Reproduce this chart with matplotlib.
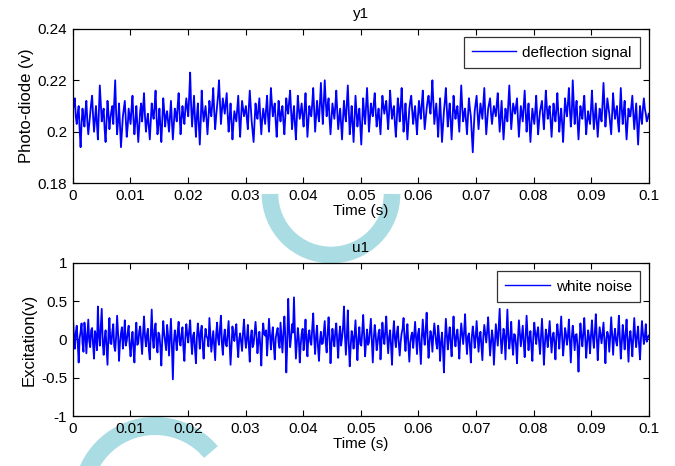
import numpy as np
import matplotlib
matplotlib.use("Agg")
import matplotlib.pyplot as plt
from matplotlib.patches import Arc
from matplotlib.ticker import FormatStrFormatter

plt.rcParams['font.family'] = ['Liberation Sans', 'DejaVu Sans']

# Photo-diode deflection signal (V) (20 samples per row)
deflection = [
    0.208, 0.211, 0.213, 0.206, 0.203, 0.207, 0.210, 0.201, 0.194, 0.203, 0.209, 0.205, 0.202, 0.208, 0.212, 0.204, 0.199, 0.203, 0.207, 0.211,
    0.214, 0.206, 0.200, 0.205, 0.210, 0.203, 0.197, 0.208, 0.218, 0.211, 0.204, 0.207, 0.209, 0.201, 0.196, 0.204, 0.212, 0.207, 0.201, 0.205,
    0.208, 0.210, 0.203, 0.212, 0.220, 0.207, 0.199, 0.204, 0.211, 0.202, 0.194, 0.200, 0.206, 0.209, 0.212, 0.205, 0.198, 0.202, 0.209, 0.206,
    0.203, 0.209, 0.214, 0.205, 0.199, 0.204, 0.210, 0.203, 0.196, 0.202, 0.208, 0.211, 0.204, 0.209, 0.215, 0.206, 0.200, 0.204, 0.207, 0.202,
    0.197, 0.204, 0.211, 0.207, 0.205, 0.210, 0.216, 0.206, 0.199, 0.203, 0.209, 0.202, 0.196, 0.205, 0.213, 0.208, 0.202, 0.206, 0.208, 0.204,
    0.200, 0.206, 0.212, 0.204, 0.197, 0.203, 0.209, 0.207, 0.204, 0.210, 0.215, 0.207, 0.199, 0.205, 0.210, 0.206, 0.203, 0.209, 0.213, 0.209,
    0.206, 0.214, 0.223, 0.210, 0.202, 0.208, 0.214, 0.205, 0.198, 0.206, 0.211, 0.203, 0.195, 0.204, 0.216, 0.209, 0.204, 0.207, 0.210, 0.205,
    0.199, 0.205, 0.212, 0.208, 0.206, 0.211, 0.217, 0.208, 0.201, 0.206, 0.210, 0.214, 0.220, 0.211, 0.203, 0.208, 0.213, 0.210, 0.207, 0.211,
    0.215, 0.207, 0.200, 0.205, 0.211, 0.204, 0.197, 0.203, 0.208, 0.206, 0.204, 0.209, 0.214, 0.205, 0.198, 0.206, 0.212, 0.209, 0.206, 0.208,
    0.210, 0.205, 0.201, 0.209, 0.216, 0.210, 0.204, 0.200, 0.196, 0.204, 0.211, 0.207, 0.205, 0.209, 0.213, 0.205, 0.199, 0.205, 0.209, 0.206,
    0.203, 0.209, 0.214, 0.206, 0.200, 0.209, 0.217, 0.211, 0.206, 0.209, 0.211, 0.204, 0.198, 0.205, 0.212, 0.207, 0.204, 0.208, 0.210, 0.204,
    0.199, 0.206, 0.213, 0.209, 0.207, 0.212, 0.216, 0.208, 0.201, 0.206, 0.210, 0.203, 0.197, 0.206, 0.214, 0.209, 0.205, 0.208, 0.211, 0.206,
    0.202, 0.209, 0.215, 0.206, 0.198, 0.204, 0.210, 0.207, 0.206, 0.211, 0.217, 0.208, 0.200, 0.206, 0.212, 0.207, 0.204, 0.211, 0.219, 0.210,
    0.203, 0.211, 0.220, 0.212, 0.206, 0.210, 0.213, 0.205, 0.199, 0.205, 0.211, 0.208, 0.205, 0.210, 0.216, 0.208, 0.201, 0.205, 0.209, 0.203,
    0.197, 0.205, 0.212, 0.207, 0.204, 0.211, 0.218, 0.208, 0.199, 0.204, 0.210, 0.203, 0.196, 0.205, 0.214, 0.208, 0.202, 0.206, 0.209, 0.202,
    0.195, 0.204, 0.213, 0.207, 0.203, 0.210, 0.217, 0.209, 0.200, 0.205, 0.211, 0.208, 0.206, 0.211, 0.215, 0.208, 0.202, 0.206, 0.209, 0.204,
    0.199, 0.207, 0.214, 0.210, 0.207, 0.210, 0.212, 0.206, 0.201, 0.208, 0.216, 0.210, 0.205, 0.208, 0.210, 0.203, 0.198, 0.205, 0.213, 0.209,
    0.204, 0.210, 0.217, 0.208, 0.200, 0.205, 0.211, 0.204, 0.197, 0.203, 0.209, 0.212, 0.214, 0.208, 0.203, 0.207, 0.210, 0.204, 0.199, 0.206,
    0.212, 0.208, 0.205, 0.211, 0.216, 0.208, 0.201, 0.205, 0.209, 0.212, 0.214, 0.210, 0.207, 0.213, 0.220, 0.211, 0.203, 0.207, 0.211, 0.205,
    0.198, 0.206, 0.213, 0.204, 0.196, 0.202, 0.208, 0.212, 0.217, 0.209, 0.202, 0.207, 0.211, 0.204, 0.197, 0.205, 0.214, 0.209, 0.205, 0.208,
    0.210, 0.205, 0.200, 0.209, 0.218, 0.210, 0.204, 0.207, 0.209, 0.204, 0.199, 0.206, 0.213, 0.209, 0.206, 0.199, 0.192, 0.201, 0.208, 0.211,
    0.214, 0.207, 0.201, 0.206, 0.211, 0.208, 0.205, 0.211, 0.217, 0.207, 0.199, 0.204, 0.209, 0.211, 0.213, 0.207, 0.203, 0.207, 0.210, 0.208,
    0.206, 0.211, 0.215, 0.207, 0.200, 0.206, 0.212, 0.204, 0.197, 0.203, 0.209, 0.206, 0.204, 0.211, 0.218, 0.209, 0.201, 0.206, 0.211, 0.209,
    0.207, 0.210, 0.213, 0.205, 0.198, 0.204, 0.210, 0.207, 0.204, 0.210, 0.216, 0.208, 0.200, 0.206, 0.211, 0.203, 0.196, 0.203, 0.209, 0.206,
    0.203, 0.208, 0.214, 0.206, 0.199, 0.204, 0.208, 0.210, 0.212, 0.206, 0.201, 0.208, 0.216, 0.210, 0.205, 0.208, 0.210, 0.204, 0.198, 0.205,
    0.211, 0.207, 0.204, 0.209, 0.215, 0.207, 0.200, 0.205, 0.209, 0.203, 0.196, 0.205, 0.213, 0.209, 0.206, 0.211, 0.217, 0.209, 0.202, 0.207,
    0.220, 0.211, 0.203, 0.208, 0.212, 0.204, 0.197, 0.204, 0.210, 0.207, 0.205, 0.210, 0.214, 0.206, 0.199, 0.204, 0.208, 0.205, 0.203, 0.209,
    0.216, 0.208, 0.201, 0.206, 0.211, 0.204, 0.198, 0.204, 0.209, 0.206, 0.204, 0.211, 0.219, 0.210, 0.202, 0.207, 0.213, 0.210, 0.207, 0.203,
    0.199, 0.207, 0.215, 0.209, 0.205, 0.208, 0.210, 0.204, 0.200, 0.208, 0.217, 0.209, 0.203, 0.208, 0.212, 0.204, 0.197, 0.203, 0.209, 0.206,
    0.206, 0.210, 0.214, 0.207, 0.201, 0.206, 0.211, 0.203, 0.195, 0.203, 0.210, 0.206, 0.203, 0.209, 0.213, 0.209, 0.207, 0.204, 0.205, 0.207,
]

# White-noise excitation (V) (20 samples per row)
excitation = [
    0.33, 0.05, -0.12, 0.09, 0.18, -0.04, -0.30, 0.02, 0.10, 0.21, -0.05, -0.16, 0.22, 0.08, -0.18, 0.04, 0.26, -0.02, -0.10, 0.12,
    0.15, -0.07, -0.25, 0.11, 0.05, -0.14, 0.43, 0.06, -0.08, 0.17, 0.40, -0.03, -0.20, 0.01, 0.12, -0.11, -0.33, 0.07, 0.28, -0.05,
    -0.06, 0.10, 0.20, -0.09, -0.15, 0.04, 0.31, 0.07, -0.28, -0.04, 0.08, 0.16, -0.12, 0.03, 0.25, -0.08, -0.02, 0.09, 0.18, -0.07,
    -0.22, -0.03, 0.10, -0.12, -0.30, 0.05, 0.22, -0.07, -0.05, 0.11, 0.17, -0.02, -0.19, 0.08, 0.30, 0.04, -0.09, 0.06, 0.14, -0.13,
    -0.26, 0.08, 0.39, 0.02, -0.11, 0.13, 0.21, -0.06, -0.17, 0.09, 0.06, -0.10, -0.34, 0.01, 0.24, 0.07, -0.03, -0.14, 0.19, 0.05,
    -0.21, 0.04, 0.27, -0.09, -0.52, -0.05, 0.12, 0.02, -0.14, 0.10, 0.23, -0.04, -0.08, 0.07, 0.16, -0.12, -0.28, 0.03, 0.20, 0.06,
    -0.04, 0.12, 0.25, -0.02, -0.19, 0.05, 0.09, -0.13, -0.31, 0.03, 0.21, 0.06, -0.12, 0.10, 0.18, -0.07, -0.25, -0.01, 0.14, 0.04,
    0.02, -0.09, 0.28, 0.07, -0.16, -0.03, 0.11, -0.08, -0.27, 0.06, 0.22, 0.01, -0.07, 0.14, 0.31, -0.05, -0.20, 0.02, 0.13, -0.06,
    -0.09, 0.07, 0.24, -0.05, -0.33, -0.08, 0.17, 0.04, -0.02, 0.11, 0.20, -0.06, -0.23, 0.01, 0.08, -0.04, -0.15, 0.09, 0.26, 0.03,
    -0.11, 0.02, 0.19, -0.07, -0.29, 0.03, 0.12, -0.10, -0.06, 0.08, 0.23, 0.05, -0.18, -0.02, 0.10, -0.09, -0.34, 0.04, 0.21, 0.07,
    0.05, 0.12, -0.21, 0.01, 0.27, 0.06, -0.13, 0.04, 0.16, -0.08, -0.26, 0.02, 0.09, 0.15, -0.04, -0.11, 0.22, 0.03, -0.17, 0.08,
    0.30, 0.04, -0.43, -0.06, 0.53, 0.12, -0.10, 0.03, 0.20, 0.09, 0.55, 0.07, -0.25, -0.04, 0.15, 0.02, -0.30, -0.07, 0.08, 0.14,
    -0.14, 0.03, 0.26, -0.05, -0.22, 0.06, 0.12, -0.03, -0.07, 0.15, 0.34, 0.02, -0.19, 0.05, 0.18, -0.10, -0.28, -0.02, 0.10, -0.06,
    -0.05, 0.09, 0.24, -0.04, -0.17, 0.08, 0.29, 0.03, -0.31, -0.06, 0.14, 0.01, -0.09, 0.11, 0.21, -0.03, -0.24, 0.05, 0.17, -0.08,
    0.02, 0.15, 0.43, 0.06, -0.20, 0.04, 0.38, -0.05, -0.35, -0.09, 0.11, 0.03, -0.12, 0.07, 0.25, -0.04, -0.27, 0.02, 0.16, -0.06,
    -0.08, 0.10, 0.32, 0.04, -0.22, -0.03, 0.13, -0.07, -0.04, 0.12, 0.27, -0.02, -0.30, 0.01, 0.19, 0.06, -0.14, -0.05, 0.09, 0.13,
    -0.26, -0.04, 0.22, 0.05, -0.06, 0.11, 0.30, 0.02, -0.18, 0.03, 0.12, -0.09, -0.33, 0.06, 0.24, 0.01, -0.10, 0.08, 0.17, -0.05,
    -0.21, -0.03, 0.08, 0.14, 0.28, 0.02, -0.15, 0.06, 0.20, -0.07, -0.29, -0.04, 0.05, 0.09, -0.11, 0.04, 0.23, 0.01, -0.19, 0.07,
    0.14, -0.08, -0.32, 0.03, 0.26, 0.05, -0.07, 0.12, 0.35, 0.02, -0.24, -0.03, 0.11, 0.04, -0.16, 0.06, 0.21, 0.08, -0.05, -0.12,
    0.18, 0.03, -0.28, -0.05, 0.09, -0.12, -0.43, -0.02, 0.27, 0.06, -0.13, 0.04, 0.16, -0.06, -0.22, 0.07, 0.30, 0.02, -0.09, 0.05,
    0.13, -0.04, -0.25, 0.02, 0.21, 0.07, -0.06, 0.10, 0.33, 0.01, -0.19, 0.04, 0.08, -0.09, -0.30, 0.03, 0.17, 0.06, -0.11, 0.02,
    0.24, 0.05, -0.16, 0.02, 0.10, -0.08, -0.27, 0.04, 0.19, 0.07, -0.04, 0.11, 0.29, 0.03, -0.21, -0.05, 0.12, 0.01, -0.33, -0.06,
    0.20, 0.06, -0.08, 0.15, 0.40, 0.03, -0.18, -0.02, 0.14, 0.05, -0.26, 0.08, 0.39, 0.04, -0.12, 0.02, 0.23, -0.06, -0.20, 0.07,
    0.06, -0.07, -0.31, 0.01, 0.25, 0.08, -0.09, 0.05, 0.18, -0.04, -0.23, 0.03, 0.31, 0.06, -0.14, 0.02, 0.11, -0.10, -0.28, 0.04,
    0.22, 0.07, -0.06, 0.09, 0.16, -0.03, -0.19, 0.05, 0.27, 0.02, -0.33, -0.07, 0.13, 0.04, -0.10, 0.08, 0.24, 0.01, -0.17, 0.03,
    0.09, -0.05, -0.26, 0.04, 0.20, 0.06, -0.12, 0.10, 0.30, 0.02, -0.21, -0.04, 0.15, 0.07, -0.07, 0.05, 0.26, -0.03, -0.30, 0.02,
    0.18, 0.04, -0.14, 0.06, 0.07, -0.10, -0.42, -0.03, 0.21, 0.05, -0.09, 0.08, 0.28, 0.01, -0.24, -0.04, 0.12, 0.03, -0.18, 0.06,
    0.25, 0.02, -0.11, 0.09, 0.33, 0.04, -0.27, -0.02, 0.16, 0.06, -0.05, 0.08, 0.22, -0.03, -0.31, 0.01, 0.10, 0.05, -0.16, 0.04,
    0.29, 0.06, -0.20, 0.03, 0.14, -0.02, -0.08, 0.07, 0.31, 0.02, -0.25, -0.05, 0.19, 0.04, -0.13, 0.08, 0.26, -0.03, -0.29, 0.01,
    0.11, -0.04, -0.22, 0.05, 0.28, 0.03, -0.10, 0.06, 0.17, -0.07, -0.26, 0.02, 0.24, 0.08, -0.06, 0.04, 0.20, -0.03, 0.02, 0.05,
]

t_end = 0.1
time = np.linspace(0, t_end, len(deflection))

x_ticks = [0, 0.01, 0.02, 0.03, 0.04, 0.05, 0.06, 0.07, 0.08, 0.09, 0.1]
y1_ticks = [0.18, 0.2, 0.22, 0.24]
u1_ticks = [-1, -0.5, 0, 0.5, 1]

fig = plt.figure(figsize=(6.75, 4.66), dpi=100)

# faint watermark behind the axes
bg = fig.add_axes([0, 0, 1, 1], zorder=-1)
bg.set_xlim(0, 675)
bg.set_ylim(0, 466)
bg.axis("off")
wm_color = "#aadde3"
bg.add_patch(Arc((331, 272), 122, 122, theta1=180, theta2=360, lw=12, color=wm_color))
bg.add_patch(Arc((155, -33), 146, 146, theta1=40, theta2=180, lw=13, color=wm_color))

ax1 = fig.add_axes([0.108, 0.607, 0.853, 0.331])
ax2 = fig.add_axes([0.108, 0.107, 0.853, 0.329])

for ax in (ax1, ax2):
    ax.set_facecolor("white")
    ax.set_xlim(0, t_end)
    ax.set_xticks(x_ticks)
    ax.xaxis.set_major_formatter(FormatStrFormatter("%g"))
    ax.yaxis.set_major_formatter(FormatStrFormatter("%g"))
    ax.tick_params(direction="in", length=4, width=0.8, top=True, right=True,
                   labelsize=11, pad=4)
    for s in ax.spines.values():
        s.set_linewidth(0.9)

leg_kw = dict(loc="upper right", fontsize=11, fancybox=False, edgecolor="black",
              handlelength=2.9, handletextpad=0.4, borderpad=0.55,
              borderaxespad=0.55)

ax1.plot(time, deflection, color="#0000ff", lw=1.3, label="deflection signal")
ax1.set_ylim(0.18, 0.24)
ax1.set_yticks(y1_ticks)
ax1.set_title("y1", fontsize=11, pad=8)
ax1.set_xlabel("Time (s)", fontsize=11, labelpad=1)
ax1.set_ylabel("Photo-diode (v)", fontsize=12, labelpad=3)
leg1 = ax1.legend(**leg_kw)
leg1.get_frame().set_linewidth(0.9)
leg1.get_lines()[0].set_linewidth(1)

ax2.plot(time, excitation, color="#0000ff", lw=1.3, label="white noise")
ax2.set_ylim(-1, 1)
ax2.set_yticks(u1_ticks)
ax2.set_title("u1", fontsize=11, pad=8)
ax2.set_xlabel("Time (s)", fontsize=11, labelpad=1)
ax2.set_ylabel("Excitation(v)", fontsize=12, labelpad=3)
leg2 = ax2.legend(**leg_kw)
leg2.get_frame().set_linewidth(0.9)
leg2.get_lines()[0].set_linewidth(1)

fig.savefig("out.png", dpi=100)
